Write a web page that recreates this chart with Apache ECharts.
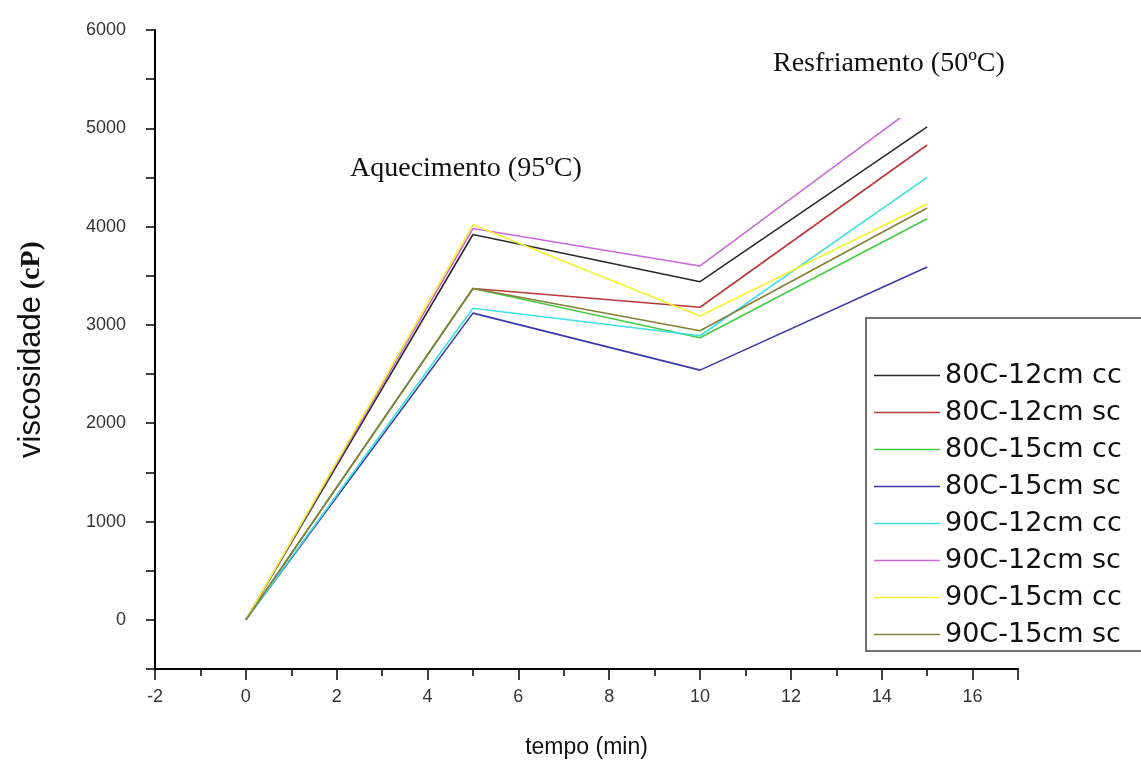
<!DOCTYPE html>
<html>
<head>
<meta charset="utf-8">
<script src="https://cdn.jsdelivr.net/npm/echarts@6/dist/echarts.min.js"></script>
<style>
html, body { margin: 0; padding: 0; background: #fff; }
#chart { width: 1141px; height: 760px; }
</style>
</head>
<body>
<div id="chart"></div>
<script>
// viscosidade x tempo, 8 amostras
var chart = echarts.init(document.getElementById('chart'));

var tempo = [0, 5, 10, 15];
var nomes = ['80C-12cm cc', '80C-12cm sc', '80C-15cm cc', '80C-15cm sc',
             '90C-12cm cc', '90C-12cm sc', '90C-15cm cc', '90C-15cm sc'];
var cores = ['#2b2b2b', '#b83a3a', '#44cc44', '#3a3aaa',
             '#40e0e0', '#cc66dd', '#f2f230', '#85803a'];

var v80_12cc = [0, 3920, 3440, 5015];
var v80_12sc = [0, 3370, 3180, 4830];
var v80_15cc = [0, 3370, 2870, 4080];
var v80_15sc = [0, 3120, 2540, 3590];
var v90_12cc = [0, 3170, 2890, 4500];
var v90_12sc = [0, 3980, 3600, 5310];
var v90_15cc = [0, 4020, 3090, 4230];
var v90_15sc = [0, 3370, 2940, 4190];

var valores = [v80_12cc, v80_12sc, v80_15cc, v80_15sc, v90_12cc, v90_12sc, v90_15cc, v90_15sc];

var series = nomes.map(function (nome, i) {
    return {
        name: nome,
        type: 'line',
        symbol: 'none',
        data: tempo.map(function (t, j) { return [t, valores[i][j]]; }),
        lineStyle: { color: cores[i], width: 1.6 },
        itemStyle: { color: cores[i] }
    };
});

option = {
    backgroundColor: '#fff',
    animation: false,
    grid: {
        left: 155,
        top: 30,
        right: 123,
        bottom: 91,
        outerBoundsMode: 'none'
    },
    legend: {
        orient: 'vertical',
        left: 866,
        top: 318,
        padding: [44, 60, 3, 8],
        icon: 'path://M0,0H66V1.6H0Z',
        itemWidth: 66,
        itemHeight: 24,
        itemGap: 10,
        borderColor: '#444',
        borderWidth: 1.5,
        backgroundColor: '#fff',
        textStyle: { fontFamily: 'DejaVu Sans', fontSize: 27, lineHeight: 26, color: '#111' },
        data: nomes
    },
    xAxis: {
        type: 'value',
        min: -2,
        max: 17,
        interval: 2,
        name: 'tempo (min)',
        nameLocation: 'middle',
        nameGap: 67,
        nameTextStyle: { fontFamily: 'Arial, Liberation Sans', fontSize: 23, color: '#111' },
        axisLine: { onZero: false, lineStyle: { color: '#000', width: 2 } },
        axisTick: { length: 11, lineStyle: { color: '#000', width: 1.5 } },
        minorTick: { show: true, splitNumber: 2, length: 7, lineStyle: { color: '#000', width: 1.5 } },
        axisLabel: {
            fontFamily: 'Arial, Liberation Sans',
            fontSize: 18,
            color: '#333',
            margin: 19,
            formatter: function (v) { return v % 2 === 0 ? v : ''; }
        },
        splitLine: { show: false }
    },
    yAxis: {
        type: 'value',
        min: -500,
        max: 6000,
        interval: 500,
        name: '{a|viscosidade}  {b|(cP)}',
        nameLocation: 'middle',
        nameRotate: 90,
        nameGap: 108,
        nameTextStyle: {
            rich: {
                a: { fontFamily: 'Arial, Liberation Sans', fontSize: 31, color: '#111' },
                b: { fontFamily: 'Liberation Serif, Times New Roman', fontSize: 28, fontWeight: 'bold', color: '#111' }
            }
        },
        axisLine: { onZero: false, lineStyle: { color: '#000', width: 2 } },
        axisTick: { length: 9, lineStyle: { color: '#000', width: 1.5 } },
        axisLabel: {
            fontFamily: 'Arial, Liberation Sans',
            fontSize: 18,
            color: '#333',
            margin: 29,
            formatter: function (v) { return (v >= 0 && v % 1000 === 0) ? v : ''; }
        },
        splitLine: { show: false }
    },
    graphic: [
        {
            type: 'rect',
            z: 50,
            shape: { x: 760, y: 0, width: 270, height: 118 },
            style: { fill: '#fff' }
        },
        {
            type: 'text',
            z: 60,
            left: 350,
            top: 155,
            style: { text: 'Aquecimento (95ºC)', font: '28px "Liberation Serif", "Times New Roman", serif', fill: '#111' }
        },
        {
            type: 'text',
            z: 60,
            left: 773,
            top: 50,
            style: { text: 'Resfriamento (50ºC)', font: '28px "Liberation Serif", "Times New Roman", serif', fill: '#111' }
        }
    ],
    series: series
};
chart.setOption(option);
</script>
</body>
</html>
